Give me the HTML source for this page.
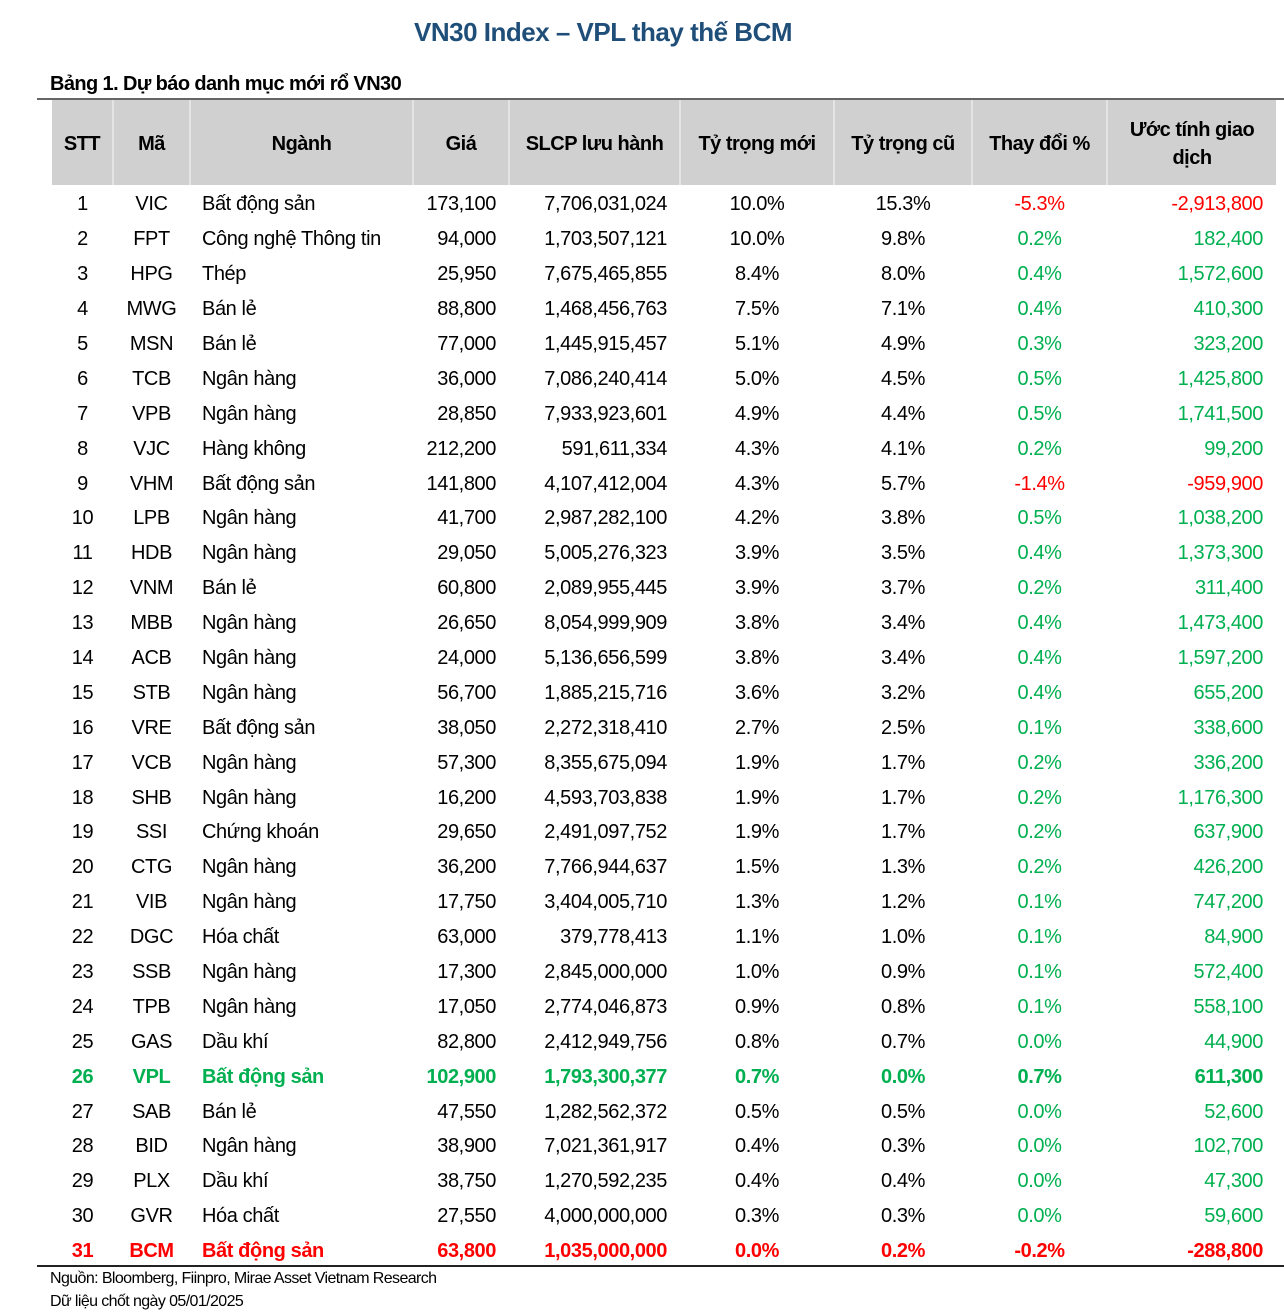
<!DOCTYPE html>
<html><head><meta charset="utf-8"><style>
body{margin:0;background:#fff;width:1284px;height:1316px;position:relative;font-family:"Liberation Sans",sans-serif;color:#000;overflow:hidden}
.title{position:absolute;top:17px;left:0;width:1206px;text-align:center;font-weight:bold;font-size:26px;color:#1f4e79;letter-spacing:-0.5px}
.cap{position:absolute;top:73px;left:50px;font-weight:bold;font-size:20px;letter-spacing:-0.6px}
.topline{position:absolute;top:98px;left:37px;width:1247px;height:2px;background:#666}
.botline{position:absolute;top:1265px;left:37px;width:1247px;height:2px;background:#222}
table{position:absolute;top:100px;left:52px;border-collapse:collapse;table-layout:fixed;width:1224px}
th{background:#d0d0d0;font-weight:bold;font-size:20px;height:83px;padding:2px 0 0 0;border-left:2px solid #e4e4e4;text-align:center;letter-spacing:-0.5px;line-height:28px}
th:first-child{border-left:none}
td{height:29.9px;padding:5px 0 0 0;font-size:20px;text-align:center;white-space:nowrap;letter-spacing:-0.4px}
td.l{text-align:left;padding-left:12px}
td.r{text-align:right;padding-right:13px}
td.g,tr td.g{color:#00b050}
td.d{color:#ff0000}
tr.gr td{color:#00b050;font-weight:bold}
tr.rd td{color:#ff0000;font-weight:bold}
.foot{position:absolute;left:50px;font-size:16px;letter-spacing:-0.6px}
</style></head><body>
<div class="title">VN30 Index – VPL thay thế BCM</div>
<div class="cap">Bảng 1. Dự báo danh mục mới rổ VN30</div>
<div class="topline"></div>
<table>
<colgroup><col style="width:61px"><col style="width:77px"><col style="width:223px"><col style="width:96px"><col style="width:171px"><col style="width:154px"><col style="width:138px"><col style="width:135px"><col style="width:169px"></colgroup>
<tr><th>STT</th><th>Mã</th><th>Ngành</th><th>Giá</th><th>SLCP lưu hành</th><th>Tỷ trọng mới</th><th>Tỷ trọng cũ</th><th>Thay đổi %</th><th>Ước tính giao<br>dịch</th></tr>
<tr><td>1</td><td>VIC</td><td class="l">Bất động sản</td><td class="r">173,100</td><td class="r">7,706,031,024</td><td>10.0%</td><td>15.3%</td><td class="d">-5.3%</td><td class="r d">-2,913,800</td></tr>
<tr><td>2</td><td>FPT</td><td class="l">Công nghệ Thông tin</td><td class="r">94,000</td><td class="r">1,703,507,121</td><td>10.0%</td><td>9.8%</td><td class="g">0.2%</td><td class="r g">182,400</td></tr>
<tr><td>3</td><td>HPG</td><td class="l">Thép</td><td class="r">25,950</td><td class="r">7,675,465,855</td><td>8.4%</td><td>8.0%</td><td class="g">0.4%</td><td class="r g">1,572,600</td></tr>
<tr><td>4</td><td>MWG</td><td class="l">Bán lẻ</td><td class="r">88,800</td><td class="r">1,468,456,763</td><td>7.5%</td><td>7.1%</td><td class="g">0.4%</td><td class="r g">410,300</td></tr>
<tr><td>5</td><td>MSN</td><td class="l">Bán lẻ</td><td class="r">77,000</td><td class="r">1,445,915,457</td><td>5.1%</td><td>4.9%</td><td class="g">0.3%</td><td class="r g">323,200</td></tr>
<tr><td>6</td><td>TCB</td><td class="l">Ngân hàng</td><td class="r">36,000</td><td class="r">7,086,240,414</td><td>5.0%</td><td>4.5%</td><td class="g">0.5%</td><td class="r g">1,425,800</td></tr>
<tr><td>7</td><td>VPB</td><td class="l">Ngân hàng</td><td class="r">28,850</td><td class="r">7,933,923,601</td><td>4.9%</td><td>4.4%</td><td class="g">0.5%</td><td class="r g">1,741,500</td></tr>
<tr><td>8</td><td>VJC</td><td class="l">Hàng không</td><td class="r">212,200</td><td class="r">591,611,334</td><td>4.3%</td><td>4.1%</td><td class="g">0.2%</td><td class="r g">99,200</td></tr>
<tr><td>9</td><td>VHM</td><td class="l">Bất động sản</td><td class="r">141,800</td><td class="r">4,107,412,004</td><td>4.3%</td><td>5.7%</td><td class="d">-1.4%</td><td class="r d">-959,900</td></tr>
<tr><td>10</td><td>LPB</td><td class="l">Ngân hàng</td><td class="r">41,700</td><td class="r">2,987,282,100</td><td>4.2%</td><td>3.8%</td><td class="g">0.5%</td><td class="r g">1,038,200</td></tr>
<tr><td>11</td><td>HDB</td><td class="l">Ngân hàng</td><td class="r">29,050</td><td class="r">5,005,276,323</td><td>3.9%</td><td>3.5%</td><td class="g">0.4%</td><td class="r g">1,373,300</td></tr>
<tr><td>12</td><td>VNM</td><td class="l">Bán lẻ</td><td class="r">60,800</td><td class="r">2,089,955,445</td><td>3.9%</td><td>3.7%</td><td class="g">0.2%</td><td class="r g">311,400</td></tr>
<tr><td>13</td><td>MBB</td><td class="l">Ngân hàng</td><td class="r">26,650</td><td class="r">8,054,999,909</td><td>3.8%</td><td>3.4%</td><td class="g">0.4%</td><td class="r g">1,473,400</td></tr>
<tr><td>14</td><td>ACB</td><td class="l">Ngân hàng</td><td class="r">24,000</td><td class="r">5,136,656,599</td><td>3.8%</td><td>3.4%</td><td class="g">0.4%</td><td class="r g">1,597,200</td></tr>
<tr><td>15</td><td>STB</td><td class="l">Ngân hàng</td><td class="r">56,700</td><td class="r">1,885,215,716</td><td>3.6%</td><td>3.2%</td><td class="g">0.4%</td><td class="r g">655,200</td></tr>
<tr><td>16</td><td>VRE</td><td class="l">Bất động sản</td><td class="r">38,050</td><td class="r">2,272,318,410</td><td>2.7%</td><td>2.5%</td><td class="g">0.1%</td><td class="r g">338,600</td></tr>
<tr><td>17</td><td>VCB</td><td class="l">Ngân hàng</td><td class="r">57,300</td><td class="r">8,355,675,094</td><td>1.9%</td><td>1.7%</td><td class="g">0.2%</td><td class="r g">336,200</td></tr>
<tr><td>18</td><td>SHB</td><td class="l">Ngân hàng</td><td class="r">16,200</td><td class="r">4,593,703,838</td><td>1.9%</td><td>1.7%</td><td class="g">0.2%</td><td class="r g">1,176,300</td></tr>
<tr><td>19</td><td>SSI</td><td class="l">Chứng khoán</td><td class="r">29,650</td><td class="r">2,491,097,752</td><td>1.9%</td><td>1.7%</td><td class="g">0.2%</td><td class="r g">637,900</td></tr>
<tr><td>20</td><td>CTG</td><td class="l">Ngân hàng</td><td class="r">36,200</td><td class="r">7,766,944,637</td><td>1.5%</td><td>1.3%</td><td class="g">0.2%</td><td class="r g">426,200</td></tr>
<tr><td>21</td><td>VIB</td><td class="l">Ngân hàng</td><td class="r">17,750</td><td class="r">3,404,005,710</td><td>1.3%</td><td>1.2%</td><td class="g">0.1%</td><td class="r g">747,200</td></tr>
<tr><td>22</td><td>DGC</td><td class="l">Hóa chất</td><td class="r">63,000</td><td class="r">379,778,413</td><td>1.1%</td><td>1.0%</td><td class="g">0.1%</td><td class="r g">84,900</td></tr>
<tr><td>23</td><td>SSB</td><td class="l">Ngân hàng</td><td class="r">17,300</td><td class="r">2,845,000,000</td><td>1.0%</td><td>0.9%</td><td class="g">0.1%</td><td class="r g">572,400</td></tr>
<tr><td>24</td><td>TPB</td><td class="l">Ngân hàng</td><td class="r">17,050</td><td class="r">2,774,046,873</td><td>0.9%</td><td>0.8%</td><td class="g">0.1%</td><td class="r g">558,100</td></tr>
<tr><td>25</td><td>GAS</td><td class="l">Dầu khí</td><td class="r">82,800</td><td class="r">2,412,949,756</td><td>0.8%</td><td>0.7%</td><td class="g">0.0%</td><td class="r g">44,900</td></tr>
<tr class="gr"><td>26</td><td>VPL</td><td class="l">Bất động sản</td><td class="r">102,900</td><td class="r">1,793,300,377</td><td>0.7%</td><td>0.0%</td><td>0.7%</td><td class="r">611,300</td></tr>
<tr><td>27</td><td>SAB</td><td class="l">Bán lẻ</td><td class="r">47,550</td><td class="r">1,282,562,372</td><td>0.5%</td><td>0.5%</td><td class="g">0.0%</td><td class="r g">52,600</td></tr>
<tr><td>28</td><td>BID</td><td class="l">Ngân hàng</td><td class="r">38,900</td><td class="r">7,021,361,917</td><td>0.4%</td><td>0.3%</td><td class="g">0.0%</td><td class="r g">102,700</td></tr>
<tr><td>29</td><td>PLX</td><td class="l">Dầu khí</td><td class="r">38,750</td><td class="r">1,270,592,235</td><td>0.4%</td><td>0.4%</td><td class="g">0.0%</td><td class="r g">47,300</td></tr>
<tr><td>30</td><td>GVR</td><td class="l">Hóa chất</td><td class="r">27,550</td><td class="r">4,000,000,000</td><td>0.3%</td><td>0.3%</td><td class="g">0.0%</td><td class="r g">59,600</td></tr>
<tr class="rd"><td>31</td><td>BCM</td><td class="l">Bất động sản</td><td class="r">63,800</td><td class="r">1,035,000,000</td><td>0.0%</td><td>0.2%</td><td>-0.2%</td><td class="r">-288,800</td></tr>
</table>
<div class="botline"></div>
<div class="foot" style="top:1270px">Nguồn: Bloomberg, Fiinpro, Mirae Asset Vietnam Research</div>
<div class="foot" style="top:1293px">Dữ liệu chốt ngày 05/01/2025</div>
</body></html>
